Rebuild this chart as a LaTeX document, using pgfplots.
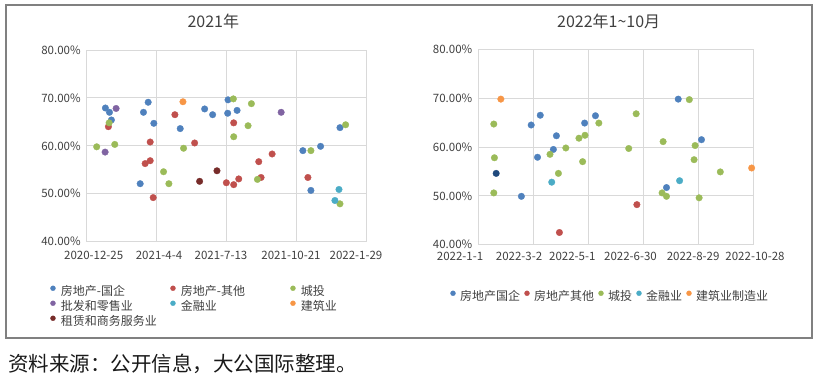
\documentclass[border=0pt]{standalone}
\usepackage{pgfplots}
\pgfplotsset{compat=1.18}
\usepackage{fontspec}
\setmainfont{Noto Sans CJK SC}
\definecolor{cBlue}{HTML}{4F81BD}
\definecolor{cRed}{HTML}{C0504D}
\definecolor{cGreen}{HTML}{9BBB59}
\definecolor{cPurple}{HTML}{8064A2}
\definecolor{cTeal}{HTML}{4BACC6}
\definecolor{cOrange}{HTML}{F79646}
\definecolor{cDarkRed}{HTML}{772C2A}
\definecolor{cNavy}{HTML}{1F497D}
\definecolor{gridc}{HTML}{D9D9D9}
\definecolor{labc}{HTML}{404040}
\definecolor{framec}{HTML}{808080}
\newcommand{\sh}[2]{\makebox[0pt][c]{\hspace*{#1}\hspace*{#1}#2}}
\newcommand{\lw}[1]{\makebox[105bp][l]{#1}}
\pgfplotsset{
  mystyle/.style={
    scale only axis, anchor=south west,
    ymin=40, ymax=80, ytick={40,50,60,70,80},
    yticklabels={40.00\%,50.00\%,60.00\%,70.00\%,80.00\%},
    grid=major, major grid style={draw=gridc, line width=0.9bp},
    axis line style={draw=gridc, line width=0.9bp},
    major tick length=0pt, tick style={draw=none},
    tick label style={font=\fontsize{11.5bp}{13bp}\selectfont, text=labc},
    yticklabel style={xshift=-2.5bp},
    title style={font=\fontsize{16bp}{19bp}\selectfont, text=labc, anchor=center},
    every axis plot/.append style={only marks, mark=*, mark size=3.3bp, line width=0.3bp},
    legend image code/.code={\draw[##1, mark size=2.5bp] plot coordinates {(2.5bp,4bp)};},
    legend cell align=left,
  }
}
\begin{document}
\begin{tikzpicture}
\draw[framec, line width=1.2bp] (6bp,42bp) rectangle (812bp,375bp);
\begin{axis}[mystyle,
  at={(86.7bp,138.3bp)}, width=280bp, height=191.7bp,
  xmin=0, xmax=400, xtick={0,100,200,300,400},
  xticklabels={\sh{7bp}{2020-12-25},\sh{2.3bp}{2021-4-4},\sh{-5.7bp}{2021-7-13},\sh{-5.7bp}{2021-10-21},\sh{-10.7bp}{2022-1-29}},
  xticklabel style={anchor=center, yshift=-14bp},
  title={2021年}, title style={at={(0.452,1.12)}},
  legend columns=3,
  legend style={at={(-0.1293,-0.2298)}, anchor=north west, draw=none, fill=none,
    inner sep=0pt, outer sep=0pt, font=\fontsize{12bp}{14bp}\selectfont, text=labc,
    row sep=2.5bp, nodes={inner sep=0pt, text height=9.5bp, text depth=2.5bp},
    /tikz/every odd column/.append style={column sep=5.5bp},
    /tikz/every even column/.append style={column sep=4.5bp}},
]
\addplot[color=cBlue, fill=cBlue] coordinates {(26.7,67.9)(32.5,67.0)(35.3,65.4)(76.4,52.1)(81.1,67.0)(87.8,69.1)(95.9,64.7)(133.6,63.6)(168.5,67.7)(179.9,66.5)(201.9,69.6)(201.4,66.8)(214.8,67.4)(308.8,59.0)(320.3,50.7)(334.1,59.9)(361.8,63.8)};
\addlegendentry{\lw{房地产-国企}}
\addplot[color=cRed, fill=cRed] coordinates {(31.0,64.0)(90.7,60.8)(83.5,56.3)(90.7,56.9)(95.0,49.2)(126.0,66.5)(154.2,60.6)(199.5,52.3)(210.0,51.9)(210.0,64.8)(217.2,53.1)(245.8,56.7)(249.1,53.4)(264.9,58.3)(316.0,53.4)};
\addlegendentry{\lw{房地产-其他}}
\addplot[color=cGreen, fill=cGreen] coordinates {(14.3,59.8)(32.0,64.8)(40.1,60.3)(109.8,54.6)(117.4,52.1)(138.4,59.5)(209.5,69.8)(210.0,61.9)(230.5,64.2)(235.3,68.8)(243.9,53.0)(320.3,59.0)(369.9,64.4)(361.8,47.9)};
\addlegendentry{城投}
\addplot[color=cPurple, fill=cPurple] coordinates {(42.0,67.8)(26.3,58.7)(277.8,67.0)};
\addlegendentry{\lw{批发和零售业}}
\addplot[color=cTeal, fill=cTeal] coordinates {(354.6,48.6)(360.4,50.9)};
\addlegendentry{\lw{金融业}}
\addplot[color=cOrange, fill=cOrange] coordinates {(137.5,69.2)};
\addlegendentry{建筑业}
\addplot[color=cDarkRed, fill=cDarkRed] coordinates {(161.3,52.6)(186.1,54.8)};
\addlegendentry{\lw{租赁和商务服务业}}
\end{axis}
\begin{axis}[mystyle,
  at={(478.3bp,135.3bp)}, width=275bp, height=195.4bp,
  xmin=0, xmax=300, xtick={0,60,120,180,240,300},
  xticklabels={\sh{-18.3bp}{2022-1-1},\sh{-14.3bp}{2022-3-2},\sh{-16bp}{2022-5-1},\sh{-12.8bp}{2022-6-30},\sh{-5.2bp}{2022-8-29},\sh{1.7bp}{2022-10-28}},
  xticklabel style={anchor=center, yshift=-11.3bp},
  title={2022年1\char`\~10月}, title style={at={(0.474,1.114)}},
  legend columns=-1,
  legend style={at={(-0.1011,-0.2677)}, anchor=west, draw=none, fill=none,
    inner sep=0pt, outer sep=0pt, font=\fontsize{12bp}{14bp}\selectfont, text=labc,
    nodes={inner sep=0pt, text height=9.5bp, text depth=2.5bp},
    /tikz/every odd column/.append style={column sep=4.5bp},
    /tikz/every even column/.append style={column sep=4.5bp}},
]
\addplot[color=cBlue, fill=cBlue] coordinates {(47.0,49.9)(57.7,64.5)(64.6,57.9)(67.6,66.5)(81.9,59.5)(85.2,62.3)(116.0,64.9)(127.8,66.4)(205.3,51.7)(218.1,69.8)(243.5,61.5)};
\addlegendentry{房地产国企}
\addplot[color=cRed, fill=cRed] coordinates {(88.5,42.5)(173.0,48.2)};
\addlegendentry{房地产其他}
\addplot[color=cGreen, fill=cGreen] coordinates {(16.9,64.7)(17.6,57.8)(16.9,50.6)(78.2,58.5)(87.4,54.6)(95.5,59.8)(109.8,61.8)(113.8,57.0)(116.4,62.4)(131.5,64.9)(164.1,59.7)(172.2,66.8)(200.5,50.6)(201.6,61.1)(205.3,49.9)(230.2,69.7)(236.5,60.3)(235.4,57.4)(240.9,49.6)(264.0,54.9)};
\addlegendentry{城投}
\addplot[color=cTeal, fill=cTeal] coordinates {(80.1,52.8)(219.6,53.1)};
\addlegendentry{金融业}
\addplot[color=cOrange, fill=cOrange] coordinates {(24.6,69.8)(298.2,55.7)};
\addlegendentry{建筑业制造业}
\addplot[color=cNavy, fill=cNavy, forget plot] coordinates {(19.5,54.6)};
\end{axis}
\node[anchor=west, inner sep=0pt, font=\fontsize{20.5bp}{24bp}\selectfont, text=black!90] at (8bp,16.5bp) {资料来源：公开信息，大公国际整理。};
\pgfresetboundingbox
\path[use as bounding box] (0,0) rectangle (817bp,380bp);
\end{tikzpicture}
\end{document}
